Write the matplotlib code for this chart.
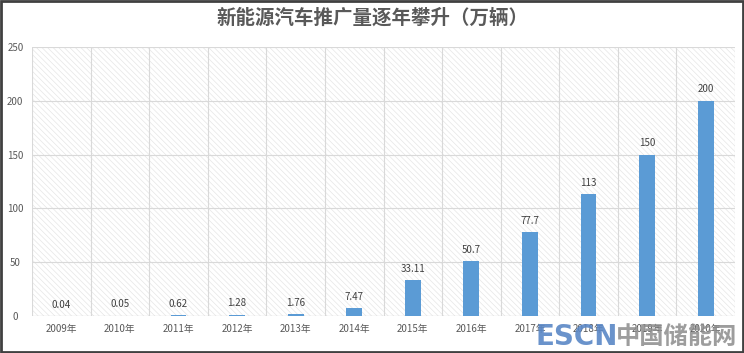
import matplotlib
matplotlib.use("Agg")
import matplotlib.pyplot as plt
import matplotlib.patches as mpatches
import numpy as np

plt.rcParams['font.family'] = ['Noto Sans CJK SC', 'DejaVu Sans']
plt.rcParams['hatch.linewidth'] = 0.5

years = ["2009年", "2010年", "2011年", "2012年", "2013年", "2014年",
         "2015年", "2016年", "2017年", "2018年", "2019年", "2020年"]
values = [0.04, 0.05, 0.62, 1.28, 1.76, 7.47, 33.11, 50.7, 77.7, 113, 150, 200]
value_labels = ["0.04", "0.05", "0.62", "1.28", "1.76", "7.47", "33.11", "50.7", "77.7", "113", "150", "200"]
yticks = [0, 50, 100, 150, 200, 250]

fig = plt.figure(figsize=(7.44, 3.53), dpi=100)
ax = fig.add_axes([32/744, 1-316/353, (735-32)/744, (316-47)/353])

x = np.arange(len(years))
ax.set_xlim(-0.5, len(years) - 0.5)
ax.set_ylim(0, 250)

# hatched background
bg = mpatches.Rectangle((0, 0), 1, 1, transform=ax.transAxes, facecolor='white',
                        edgecolor='#e6e6e6', hatch='\\\\\\\\\\\\', linewidth=0, zorder=0)
ax.add_patch(bg)

ax.bar(x, values, width=0.27, color='#5B9BD5', zorder=3)

for xi, v, lab in zip(x, values, value_labels):
    ax.text(xi, v + 6, lab, ha='center', va='bottom', fontsize=7, color='#404040', zorder=4)

ax.set_yticks(yticks)
ax.set_yticklabels([str(t) for t in yticks])
ax.set_xticks(x)
ax.set_xticklabels(years)
ax.tick_params(axis='both', length=0, labelsize=7, colors='#595959')
ax.tick_params(axis='x', pad=6)
ax.tick_params(axis='y', pad=12)
for lab in ax.get_yticklabels():
    lab.set_horizontalalignment('center')

# grid: horizontal at ticks, vertical at category boundaries
for t in yticks:
    ax.axhline(t, color='#d9d9d9', linewidth=0.8, zorder=1)
for b in np.arange(-0.5, len(years) + 0.5, 1):
    ax.axvline(b, color='#d9d9d9', linewidth=0.8, zorder=1)
for s in ax.spines.values():
    s.set_visible(False)
ax.axhline(0, color='#bfbfbf', linewidth=0.8, zorder=2)

fig.text(0.5, 1 - 18/353, "新能源汽车推广量逐年攀升（万辆）", ha='center', va='center',
         fontsize=14, fontweight='bold', color='#595959')

# outer frame
frame = mpatches.Rectangle((0.002, 0.003), 0.996, 0.994, transform=fig.transFigure,
                           fill=False, edgecolor='#404040', linewidth=2)
fig.patches.append(frame)

# watermark
fig.text(536/744, 1 - 337/353, "ESCN", ha='left', va='center', fontsize=20,
         fontweight='bold', color='#5a87c6', zorder=10, family=['DejaVu Sans'],
         alpha=0.9)
fig.text(616/744, 1 - 337/353, "中国储能网", ha='left', va='center', fontsize=17.5,
         fontweight='bold', color='#8c8c8c', zorder=10, alpha=0.85)

fig.savefig("out.png", dpi=100)
